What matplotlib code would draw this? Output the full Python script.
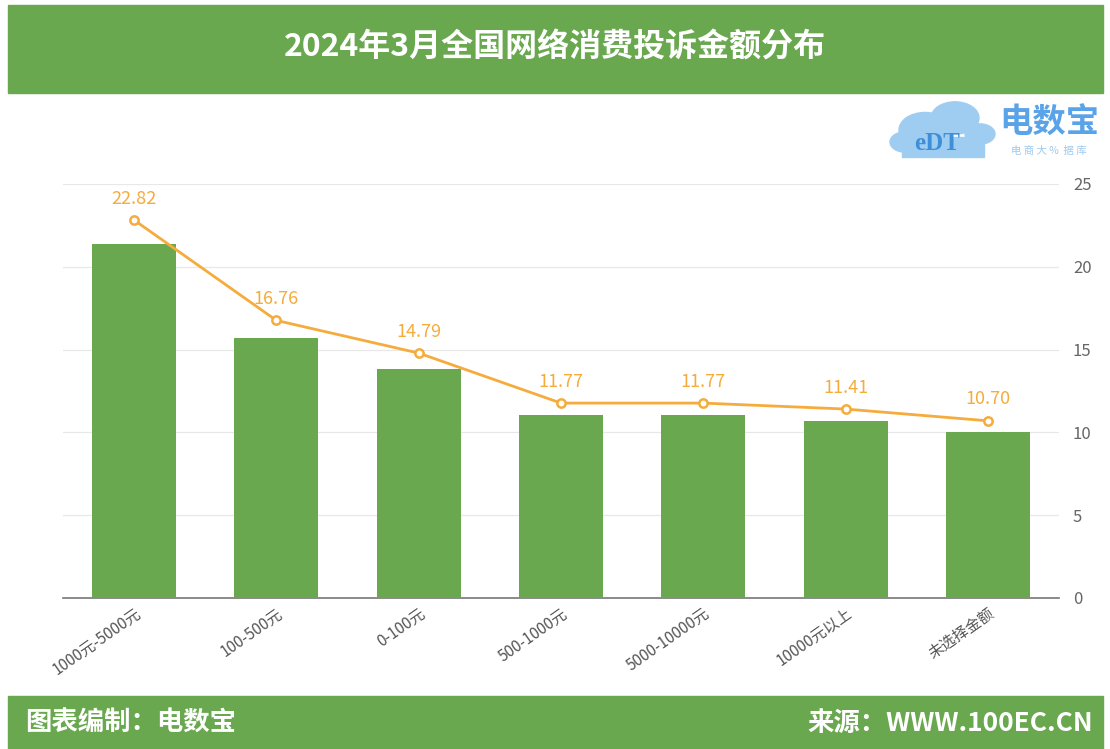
import numpy as np
import matplotlib
matplotlib.use("Agg")
import matplotlib.pyplot as plt
from matplotlib.patches import Rectangle, Circle

plt.rcParams['font.family'] = ['Noto Sans CJK SC', 'DejaVu Sans']

# data
categories = ['1000元-5000元', '100-500元', '0-100元', '500-1000元',
              '5000-10000元', '10000元以上', '未选择金额']
share = [22.82, 16.76, 14.79, 11.77, 11.77, 11.41, 10.70]
right_ticks = [0, 5, 10, 15, 20, 25]

green = '#69a84f'
orange = '#f5ac3d'
grey_txt = '#555555'

fig = plt.figure(figsize=(11.1, 7.49), dpi=100)
fig.patch.set_facecolor('white')

# header / footer bands
fig.add_artist(Rectangle((8 / 1110, 1 - 93 / 749), 1095 / 1110, 88 / 749,
                         transform=fig.transFigure, color=green, zorder=0))
fig.add_artist(Rectangle((8 / 1110, 0), 1095 / 1110, 53 / 749,
                         transform=fig.transFigure, color=green, zorder=0))
fig.text(0.5, 1 - 48 / 749, '2024年3月全国网络消费投诉金额分布', color='white',
         fontsize=23, fontweight='bold', ha='center', va='center')
fig.text(25 / 1110, 26 / 749, '图表编制：电数宝', color='white',
         fontsize=19, fontweight='bold', ha='left', va='center')
fig.text(1093 / 1110, 26 / 749, '来源：WWW.100EC.CN', color='white',
         fontsize=19, fontweight='bold', ha='right', va='center')

# logo
cloud = [(925, 130, 26), (955, 118, 24), (980, 134, 15), (905, 142, 15)]
for cx, cy, r in cloud:
    fig.add_artist(Circle((cx / 1110, 1 - cy / 749), r / 1110,
                          transform=fig.transFigure, color='#9fcdf2', zorder=1))
fig.add_artist(Rectangle((902 / 1110, 1 - 157 / 749), 82 / 1110, 20 / 749,
                         transform=fig.transFigure, color='#9fcdf2', zorder=1))
fig.text(937 / 1110, 1 - 144 / 749, 'eDT', color='#3f8fd8', fontsize=18,
         fontweight='bold', family='Liberation Serif', ha='center', va='center', zorder=2)
fig.text(1049 / 1110, 1 - 123 / 749, '电数宝', color='#5aa3e8', fontsize=24,
         fontweight='bold', ha='center', va='center')
fig.text(1049 / 1110, 1 - 151 / 749, '电 商 大 %  据 库', color='#9ccaf0', fontsize=7.5,
         ha='center', va='center')

# axes: grid, bars, line
rect = [63 / 1110, 151 / 749, 996 / 1110, 414 / 749]
ax = fig.add_axes(rect)
x = np.arange(len(categories))

axb = ax.twinx()
axb.bar(x, share, width=0.59, color=green, zorder=2)
axb.set_ylim(0, 26.7)
axb.axis('off')

axl = ax.twinx()
axl.plot(x, share, color=orange, linewidth=2, marker='o', markersize=6,
         markerfacecolor='white', markeredgecolor=orange, markeredgewidth=1.8)
axl.set_ylim(0, 25)
axl.axis('off')
for xi, v in zip(x, share):
    axl.annotate(f'{v:.2f}', (xi, v), xytext=(0, 9), textcoords='offset points',
                 ha='center', va='bottom', color=orange, fontsize=13)

ax.set_xlim(-0.5, len(categories) - 0.5)
axl.set_xlim(ax.get_xlim())
axb.set_xlim(ax.get_xlim())
ax.set_ylim(0, 25)
ax.set_yticks(right_ticks)
ax.yaxis.tick_right()
ax.tick_params(axis='y', length=0, pad=10, labelsize=12, labelcolor='#666666')
ax.grid(axis='y', color='#e8e8e8', linewidth=0.9)
ax.set_axisbelow(True)
for s in ['top', 'left', 'right']:
    ax.spines[s].set_visible(False)
ax.spines['bottom'].set_color('#777777')
ax.spines['bottom'].set_linewidth(1.2)
ax.set_xticks(x)
ax.set_xticklabels(categories, rotation=35, ha='right', rotation_mode='anchor',
                   fontsize=11, color=grey_txt)
ax.tick_params(axis='x', length=0, pad=5)

fig.savefig('out.png', dpi=100)
